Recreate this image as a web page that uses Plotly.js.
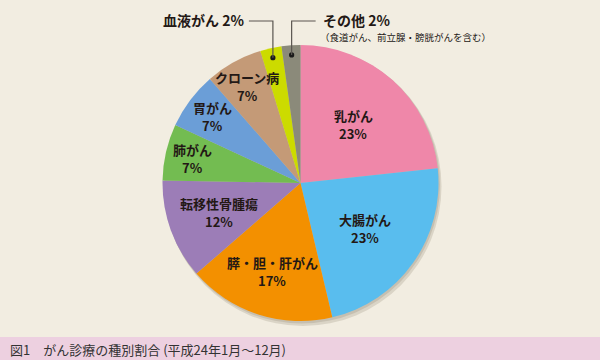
<!DOCTYPE html>
<html>
<head>
<meta charset="utf-8">
<script src="https://cdn.plot.ly/plotly-3.0.1.min.js"></script>
<style>html,body{margin:0;padding:0;background:#F2EDE1;}#chart{width:600px;height:360px;}</style>
</head>
<body>
<div id="chart"></div>
<script>
const categories = ['乳がん','大腸がん','膵・胆・肝がん','転移性骨腫瘍','肺がん','胃がん','クローン病','血液がん','その他'];
const shares = [23.3, 23.0, 17.3, 11.7, 6.6, 6.7, 6.7, 2.5, 2.2];
const percentLabels = ['23%','23%','17%','12%','7%','7%','7%','2%','2%'];
const colors = ['#EF87A9','#59BDEE','#F39000','#9C7DB7','#73BC51','#6B9ED7','#C49A77','#CCDB00','#8B8A7A'];
const otherNote = '（食道がん、前立腺・膀胱がんを含む）';
const caption = '図1　がん診療の種別割合 (平成24年1月〜12月)';

const W = 600, H = 360;
const CX = 300.5, CY = 183, R = 138;
const px = x => x / W;
const py = y => 1 - y / H;
const FONT = '"Noto Sans CJK JP", "Noto Sans", sans-serif';

const total = shares.reduce((a, b) => a + b, 0);
const mids = [];
let cum = 0;
shares.forEach(v => { mids.push((cum + v / 2) / total); cum += v; });
function polar(frac, rf) {
  const a = 2 * Math.PI * frac;
  return [CX + R * rf * Math.sin(a), CY - R * rf * Math.cos(a)];
}

const annotations = [];
const shapes = [];
// soft shadow
shapes.push({type:'circle', xref:'paper', yref:'paper', layer:'below',
  x0:px(CX-R+2), x1:px(CX+R+3), y0:py(CY+R+5), y1:py(CY-R+2),
  fillcolor:'rgba(110,100,80,0.18)', line:{width:0}});
shapes.push({type:'circle', xref:'paper', yref:'paper', layer:'below',
  x0:px(CX-R+1), x1:px(CX+R+1.5), y0:py(CY+R+2.5), y1:py(CY-R+1),
  fillcolor:'rgba(110,100,80,0.18)', line:{width:0}});

const labelFont = {family:FONT, size:13, color:'#231815', weight:'bold'};
categories.forEach((c, i) => {
  if (i >= 7) return;
  const f = shares[i] / total;
  const rf = f > 0.2 ? 0.57 : (f > 0.14 ? 0.67 : (f > 0.1 ? 0.63 : 0.8));
  const [x, y] = polar(mids[i], rf);
  annotations.push({xref:'paper', yref:'paper', x:px(x), y:py(y - 9), xanchor:'center', yanchor:'middle',
    text: c, showarrow:false, font:labelFont, borderpad:0});
  annotations.push({xref:'paper', yref:'paper', x:px(x), y:py(y + 9), xanchor:'center', yanchor:'middle',
    text: percentLabels[i], showarrow:false, font:labelFont, borderpad:0});
});

// outside labels with leader lines
const lineY = 21;
[7, 8].forEach(i => {
  const [dx, dy] = polar(mids[i], 0.93);
  shapes.push({type:'circle', xref:'paper', yref:'paper', x0:px(dx-2.6), x1:px(dx+2.6), y0:py(dy+2.6), y1:py(dy-2.6),
    fillcolor:'#1a1a1a', line:{width:0}});
  const endX = i === 7 ? dx - 24 : dx + 24;
  shapes.push({type:'path', xref:'paper', yref:'paper',
    path:`M ${px(dx)} ${py(dy)} L ${px(dx)} ${py(lineY)} L ${px(endX)} ${py(lineY)}`,
    line:{color:'#5a5550', width:1.2}});
  annotations.push({xref:'paper', yref:'paper', x:px(i === 7 ? endX - 4 : endX + 6), y:py(20),
    xanchor: i === 7 ? 'right' : 'left', yanchor:'middle', showarrow:false, borderpad:0,
    text: categories[i] + ' ' + percentLabels[i],
    font:{family:FONT, size:14, color:'#231815', weight:'bold'}});
  if (i === 8) {
    annotations.push({xref:'paper', yref:'paper', x:px(endX + 3), y:py(37), xanchor:'left', yanchor:'middle', showarrow:false, borderpad:0,
      text: otherNote, font:{family:FONT, size:9.5, color:'#231815'}});
  }
});

// bottom strip + caption
shapes.push({type:'rect', xref:'paper', yref:'paper', layer:'below', x0:0, x1:1, y0:0, y1:py(337),
  fillcolor:'#EDD0E0', line:{width:0}});
annotations.push({xref:'paper', yref:'paper', x:px(8), y:py(349), xanchor:'left', yanchor:'middle', showarrow:false,
  text: caption, font:{family:FONT, size:13, color:'#333333'}});

const trace = {
  type:'pie', labels:categories, values:shares, sort:false, direction:'clockwise', rotation:0,
  marker:{colors:colors, line:{width:0}}, textinfo:'none', hoverinfo:'skip',
  domain:{x:[px(CX-R), px(CX+R)], y:[py(CY+R), py(CY-R)]}
};

Plotly.newPlot('chart', [trace], {
  width:W, height:H, margin:{l:0, r:0, t:0, b:0},
  paper_bgcolor:'#F2EDE1', plot_bgcolor:'#F2EDE1', showlegend:false,
  annotations:annotations, shapes:shapes
}, {staticPlot:true, displayModeBar:false});
</script>
</body>
</html>
